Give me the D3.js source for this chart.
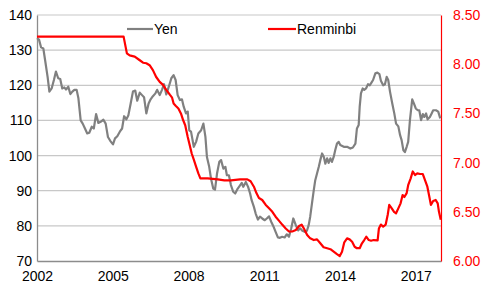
<!DOCTYPE html>
<html><head><meta charset="utf-8">
<script src="https://cdn.jsdelivr.net/npm/d3@7"></script>
<style>body{margin:0;background:#fff}svg{display:block;font-family:"Liberation Sans",Arial,sans-serif}</style>
</head><body><svg id="c" width="481" height="288"></svg>
<script>
const yearTicks = [2002, 2005, 2008, 2011, 2014, 2017];
const leftTicks = [70, 80, 90, 100, 110, 120, 130, 140];
const rightTicks = [6.0, 6.5, 7.0, 7.5, 8.0, 8.5];
const seriesNames = ["Yen", "Renminbi"];

const yenDates = [2002.00,2002.08,2002.16,2002.25,2002.32,2002.42,2002.49,2002.58,2002.67,2002.75,2002.84,2002.92,2003.00,2003.08,2003.15,2003.24,2003.32,2003.40,2003.48,2003.57,2003.64,2003.73,2003.81,2003.90,2003.99,2004.07,2004.17,2004.25,2004.34,2004.43,2004.52,2004.63,2004.72,2004.81,2004.90,2005.01,2005.09,2005.18,2005.28,2005.37,2005.45,2005.54,2005.62,2005.71,2005.80,2005.89,2005.97,2006.07,2006.16,2006.24,2006.33,2006.42,2006.50,2006.59,2006.69,2006.76,2006.86,2006.95,2007.03,2007.12,2007.22,2007.32,2007.41,2007.49,2007.57,2007.66,2007.74,2007.81,2007.90,2007.97,2008.03,2008.10,2008.21,2008.30,2008.39,2008.50,2008.59,2008.67,2008.73,2008.82,2008.89,2008.98,2009.05,2009.13,2009.22,2009.29,2009.38,2009.46,2009.52,2009.60,2009.68,2009.77,2009.85,2009.95,2010.00,2010.11,2010.17,2010.27,2010.36,2010.44,2010.50,2010.59,2010.66,2010.75,2010.83,2010.92,2011.02,2011.10,2011.19,2011.28,2011.36,2011.45,2011.54,2011.62,2011.71,2011.81,2011.89,2011.98,2012.07,2012.15,2012.25,2012.34,2012.42,2012.51,2012.60,2012.69,2012.76,2012.82,2012.89,2012.96,2013.02,2013.09,2013.16,2013.22,2013.29,2013.36,2013.42,2013.49,2013.55,2013.62,2013.68,2013.75,2013.81,2013.88,2013.95,2014.01,2014.15,2014.28,2014.41,2014.51,2014.61,2014.67,2014.74,2014.78,2014.83,2014.90,2014.96,2015.03,2015.11,2015.18,2015.24,2015.31,2015.40,2015.48,2015.56,2015.62,2015.71,2015.78,2015.85,2015.91,2015.98,2016.07,2016.15,2016.22,2016.31,2016.38,2016.44,2016.51,2016.57,2016.64,2016.70,2016.77,2016.86,2016.93,2017.00,2017.08,2017.14,2017.21,2017.28,2017.34,2017.41,2017.47,2017.56,2017.63,2017.69,2017.80,2017.89,2017.97];
const yenValues = [133.4,133,130.8,130.5,127.2,122.4,118.2,119.1,121.5,123.9,122,121.8,119.1,119.4,118.8,119.6,117.5,118.2,118.7,118.7,116.3,110,109.1,107.7,106.3,106.5,108.2,107.7,111.8,109.3,109.6,110.2,109.1,105.3,104.2,103.2,104.9,105.5,106.8,107.7,111.2,110.3,111.5,114.8,118.2,118.5,115.6,117.9,117.2,116.6,112,114.8,116,116.9,117.7,118.7,117.2,118.7,120.3,117.4,119.6,122,122.9,121.5,117.2,115.8,116,113.9,112,112.5,107.2,106.8,102.5,103.9,106.3,107.2,109.1,105.3,99.6,96.8,93.5,90.6,90.3,94.9,98.2,98.7,96.3,96.8,94.4,94.4,91.6,89.7,89.2,90.6,91.1,92.2,91.1,92.5,91.1,89.2,87.3,85.4,83.5,81.8,82.6,82.1,81.6,82.1,82.7,81.1,79.9,78.3,76.7,76.6,76.9,76.7,77.6,76.9,79.3,82.1,80.2,78.7,79.3,78.6,78.3,78.6,80.2,82.6,86.4,90.1,93,94.9,96.8,98.7,100.6,99.6,97.7,99.2,97.9,99.2,98.2,99.6,101.5,103.4,103.9,103,102.5,102.5,102,102.3,103.4,107.7,108.7,113.9,117.7,119.1,118.7,119.1,120.3,120,120.7,121.5,123.4,123.6,123.2,121.3,120,120.3,122.4,121.5,118.2,114.8,112,109.1,108.3,105.8,104.4,101.5,101,102.5,103.9,110.1,116,114.8,113.4,112.9,112.9,110.1,111.8,111,112,110.3,111,112,112.9,112.9,112.5,110.6];

const rmbDates = [2002.00,2005.43,2005.56,2005.67,2005.87,2006.07,2006.20,2006.33,2006.46,2006.59,2006.72,2006.86,2006.99,2007.12,2007.26,2007.35,2007.41,2007.50,2007.60,2007.70,2007.79,2007.87,2007.97,2008.03,2008.13,2008.21,2008.30,2008.39,2008.47,2008.76,2009.16,2009.42,2009.68,2010.04,2010.33,2010.46,2010.59,2010.69,2010.79,2010.92,2011.06,2011.19,2011.32,2011.45,2011.58,2011.71,2011.85,2011.98,2012.11,2012.25,2012.38,2012.48,2012.57,2012.70,2012.82,2012.96,2013.09,2013.22,2013.35,2013.49,2013.62,2013.75,2013.88,2013.99,2014.08,2014.17,2014.28,2014.38,2014.48,2014.58,2014.67,2014.78,2014.87,2014.96,2015.04,2015.14,2015.23,2015.33,2015.49,2015.54,2015.62,2015.71,2015.81,2015.89,2015.95,2016.05,2016.14,2016.22,2016.31,2016.40,2016.48,2016.55,2016.64,2016.70,2016.80,2016.88,2016.97,2017.06,2017.17,2017.28,2017.37,2017.46,2017.54,2017.60,2017.69,2017.79,2017.87,2017.92,2017.99];
const rmbValues = [8.28,8.28,8.11,8.09,8.077,8.04,8.015,8.01,7.99,7.94,7.87,7.82,7.79,7.74,7.69,7.66,7.60,7.575,7.55,7.50,7.43,7.38,7.26,7.196,7.09,7.03,6.96,6.89,6.84,6.84,6.83,6.82,6.82,6.83,6.83,6.81,6.755,6.69,6.64,6.62,6.57,6.535,6.50,6.45,6.41,6.37,6.33,6.30,6.30,6.315,6.356,6.37,6.33,6.265,6.23,6.213,6.22,6.18,6.14,6.13,6.12,6.095,6.07,6.05,6.095,6.19,6.23,6.22,6.196,6.145,6.13,6.13,6.18,6.213,6.247,6.213,6.206,6.213,6.21,6.33,6.37,6.35,6.37,6.47,6.57,6.535,6.50,6.485,6.535,6.586,6.67,6.65,6.69,6.77,6.84,6.91,6.874,6.89,6.884,6.884,6.82,6.755,6.65,6.57,6.61,6.62,6.586,6.50,6.42];

const svg = d3.select("#c");
const L = 37, R = 441, T = 15, B = 261;
const x = d3.scaleLinear().domain([2002, 2018]).range([L, R]);
const yL = d3.scaleLinear().domain([70, 140]).range([B, T]);
const yR = d3.scaleLinear().domain([6.0, 8.5]).range([B, T]);

// gridlines
svg.append("g").selectAll("line").data(leftTicks.filter(d => d > 70)).join("line")
  .attr("x1", L).attr("x2", R).attr("y1", d => yL(d)).attr("y2", d => yL(d))
  .attr("stroke", "#c8c8c8").attr("stroke-width", 1.2);

// left axis
const gL = svg.append("g").attr("transform", `translate(${L},0)`)
  .call(d3.axisLeft(yL).tickValues(leftTicks).tickSize(0).tickPadding(5).tickFormat(d3.format("d")));
gL.select(".domain").attr("stroke", "#8c8c8c").attr("stroke-width", 1.3);
gL.selectAll("text").attr("font-size", 14).attr("fill", "#000").attr("font-family", "Liberation Sans, Arial, sans-serif");

// bottom axis
const gB = svg.append("g").attr("transform", `translate(0,${B})`)
  .call(d3.axisBottom(x).tickValues(yearTicks).tickSize(0).tickPadding(10).tickFormat(d3.format("d")));
gB.select(".domain").attr("stroke", "#8c8c8c").attr("stroke-width", 1.3);
gB.selectAll("text").attr("font-size", 14).attr("fill", "#000").attr("font-family", "Liberation Sans, Arial, sans-serif");

// right axis
const gR = svg.append("g").attr("transform", `translate(${R},0)`)
  .call(d3.axisRight(yR).tickValues(rightTicks).tickSize(0).tickPadding(12).tickFormat(d3.format(".2f")));
gR.select(".domain").attr("stroke", "#ff0000").attr("stroke-width", 1.2);
gR.selectAll("text").attr("font-size", 14).attr("fill", "#ff0000").attr("font-family", "Liberation Sans, Arial, sans-serif");

// lines
const yenData = yenDates.map((d, i) => [d, yenValues[i]]);
const rmbData = rmbDates.map((d, i) => [d, rmbValues[i]]);
svg.append("path").datum(yenData)
  .attr("d", d3.line().x(d => x(d[0])).y(d => yL(d[1])))
  .attr("fill", "none").attr("stroke", "#808080").attr("stroke-width", 2.2).attr("stroke-linejoin", "round");
svg.append("path").datum(rmbData)
  .attr("d", d3.line().x(d => x(d[0])).y(d => yR(d[1])))
  .attr("fill", "none").attr("stroke", "#ff0000").attr("stroke-width", 2.2).attr("stroke-linejoin", "round");

// legend
const legend = [{name: seriesNames[0], color: "#808080", x1: 127, x2: 153},
                {name: seriesNames[1], color: "#ff0000", x1: 268, x2: 296}];
const lg = svg.append("g");
legend.forEach(l => {
  lg.append("line").attr("x1", l.x1).attr("x2", l.x2).attr("y1", 29).attr("y2", 29)
    .attr("stroke", l.color).attr("stroke-width", 2.2);
  lg.append("text").attr("x", l.x2 + 1).attr("y", 34).attr("font-size", 14).attr("fill", "#000").text(l.name);
});
</script></body></html>
